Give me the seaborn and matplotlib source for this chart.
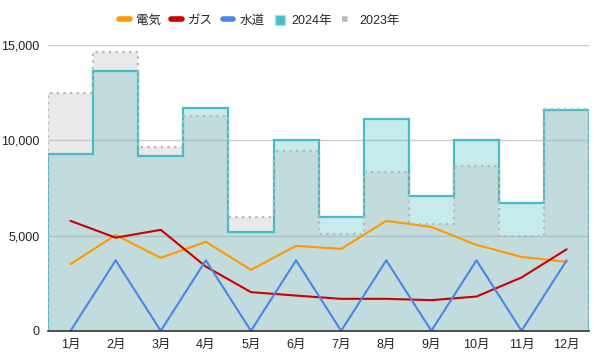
import numpy as np
import pandas as pd
import matplotlib

matplotlib.use("Agg")
import matplotlib.pyplot as plt
import seaborn as sns
from matplotlib.lines import Line2D
from matplotlib.patches import Patch
from matplotlib.ticker import FuncFormatter

sns.set_style("white")
plt.rcParams['font.family'] = ['Liberation Sans', 'Noto Sans CJK JP', 'DejaVu Sans']

# ===================== データ =====================
months = ["1月", "2月", "3月", "4月", "5月", "6月", "7月", "8月", "9月", "10月", "11月", "12月"]
denki = [3500, 5030, 3830, 4670, 3200, 4460, 4300, 5770, 5450, 4510, 3880, 3620]
gas = [5770, 4890, 5300, 3370, 2030, 1850, 1680, 1680, 1610, 1800, 2800, 4280]
suido = [0, 3700, 0, 3700, 0, 3700, 0, 3700, 0, 3700, 0, 3700]
total_2024 = [9300, 13650, 9200, 11700, 5200, 10000, 6000, 11100, 7100, 10000, 6700, 11600]
total_2023 = [12500, 14650, 9650, 11300, 6000, 9450, 5100, 8350, 5600, 8650, 5000, 11650]

TEAL = "#46bdc6"
GREY = "#b7b7b7"
line_colors = {"電気": "#ff9900", "ガス": "#cc0000", "水道": "#4a86e8"}

x = np.arange(len(months))
edges = np.arange(len(months) + 1) - 0.5

fig = plt.figure(figsize=(6, 3.6), dpi=100)
ax = fig.add_axes([0.08, 0.081, 0.902, 0.794])

# 階段状エリア（2024年 / 2023年）
ax.stairs(total_2024, edges, baseline=0, fill=True, color=TEAL, alpha=0.3, lw=0, zorder=1)
ax.stairs(total_2023, edges, baseline=0, fill=True, color=GREY, alpha=0.3, lw=0, zorder=1)
ax.stairs(total_2024, edges, baseline=0, fill=False, color=TEAL, lw=1.6, zorder=2)
ax.stairs(total_2023, edges, baseline=0, fill=False, color=GREY, lw=1.6,
          linestyle=(0, (1, 2)), zorder=2)

# 折れ線
df = pd.DataFrame({"x": np.tile(x, 3),
                   "値": denki + gas + suido,
                   "種類": ["電気"] * 12 + ["ガス"] * 12 + ["水道"] * 12})
sns.lineplot(data=df, x="x", y="値", hue="種類", palette=line_colors, lw=1.5,
             legend=False, ax=ax, zorder=3)

ax.set_xlim(-0.5, len(months) - 0.5)
ax.set_ylim(0, 15000)
ax.set_yticks([0, 5000, 10000, 15000])
ax.yaxis.set_major_formatter(FuncFormatter(lambda v, p: f"{int(v):,}"))
ax.set_xticks(x)
ax.set_xticklabels(months)
ax.set_xlabel("")
ax.set_ylabel("")
ax.grid(axis="y", color="#cccccc", lw=1, zorder=0)
ax.set_axisbelow(True)
for s in ["top", "right", "left"]:
    ax.spines[s].set_visible(False)
ax.spines["bottom"].set_color("#333333")
ax.spines["bottom"].set_linewidth(1.2)
ax.spines["bottom"].set_zorder(4)
ax.tick_params(axis="both", length=0, labelsize=9, colors="#222222")
ax.tick_params(axis="y", pad=6)
ax.tick_params(axis="x", pad=6)

handles = [
    Line2D([], [], color="#ff9900", lw=4),
    Line2D([], [], color="#cc0000", lw=4),
    Line2D([], [], color="#4a86e8", lw=4),
    Patch(facecolor=TEAL, edgecolor="#a8e0e4", lw=1),
    Line2D([], [], color="#bbbbbb", lw=4, linestyle=(0, (1, 1.2))),
]
labels = ["電気", "ガス", "水道", "2024年", "2023年"]
fig.legend(handles, labels, loc="center", bbox_to_anchor=(0.432, 0.942), ncol=5,
           frameon=False, fontsize=9, handlelength=0.85, handleheight=0.9,
           handletextpad=0.5, columnspacing=0.8)

fig.savefig("out.png", dpi=100)
